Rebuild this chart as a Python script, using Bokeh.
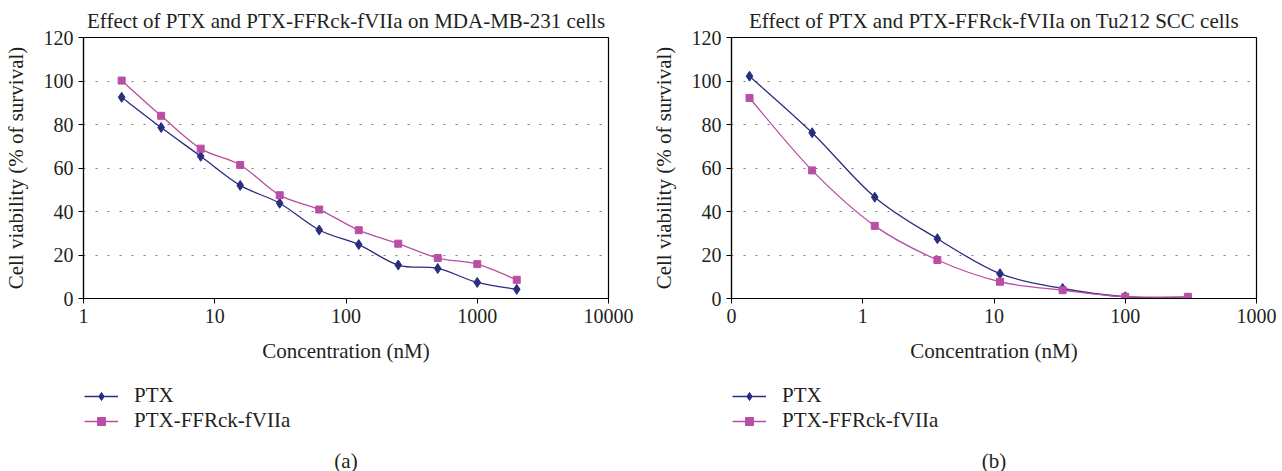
import math
from bokeh.plotting import figure
from bokeh.models import (FixedTicker, NumeralTickFormatter, Legend, LegendItem,
                          Label, Range1d, ColumnDataSource)
from bokeh.layouts import row, column
from bokeh.embed import file_html
from bokeh.resources import INLINE

# ---- data ----
conc_a = [1.953125, 3.90625, 7.8125, 15.625, 31.25, 62.5, 125, 250, 500, 1000, 2000]
ptx_a = [92.5, 78.6, 65.4, 52.0, 43.8, 31.5, 24.8, 15.4, 13.8, 7.4, 4.2]
conj_a = [100.2, 84.0, 68.9, 61.4, 47.5, 40.9, 31.4, 25.2, 18.6, 15.8, 8.6]

conc_b = [0.1372, 0.4115, 1.2346, 3.7037, 11.111, 33.333, 100, 300]
ptx_b = [102.2, 76.2, 46.6, 27.5, 11.4, 4.6, 0.8, 0.2]
conj_b = [92.2, 58.9, 33.4, 17.7, 7.7, 3.8, 0.8, 0.8]

ticks_a = [1, 10, 100, 1000, 10000]
ticks_b = [0.1, 1, 10, 100, 1000]
y_ticks = [0, 20, 40, 60, 80, 100, 120]
grid_ticks = [20, 40, 60, 80, 100]

series_names = ["PTX", "PTX-FFRck-fVIIa"]
titles = ["Effect of PTX and PTX-FFRck-fVIIa on MDA-MB-231 cells",
          "Effect of PTX and PTX-FFRck-fVIIa on Tu212 SCC cells"]
x_label = "Concentration (nM)"
y_label = "Cell viability (% of survival)"
panel_labels = ["(a)", "(b)"]

BLUE = "#2b2d80"
MAGENTA = "#b94fa4"
FONT = "Liberation Serif"
TXT = "#231f20"
STYLES = [(BLUE, "diamond", 10), (MAGENTA, "square", 7)]


def smooth_source(xs, ys):
    """Bezier segments (Catmull-Rom style) through the data points in log-x space."""
    lx = [math.log10(v) for v in xs]
    n = len(xs)
    tx, ty = [], []
    for i in range(n):
        a, b = max(i - 1, 0), min(i + 1, n - 1)
        tx.append((lx[b] - lx[a]) * 0.5)
        ty.append((ys[b] - ys[a]) * 0.5)
    d = dict(x0=[], y0=[], x1=[], y1=[], cx0=[], cy0=[], cx1=[], cy1=[])
    for i in range(n - 1):
        d["x0"].append(xs[i]); d["y0"].append(ys[i])
        d["x1"].append(xs[i + 1]); d["y1"].append(ys[i + 1])
        d["cx0"].append(10 ** (lx[i] + tx[i] / 3)); d["cy0"].append(ys[i] + ty[i] / 3)
        d["cx1"].append(10 ** (lx[i + 1] - tx[i + 1] / 3)); d["cy1"].append(ys[i + 1] - ty[i + 1] / 3)
    return ColumnDataSource(d)


def make_fig(title, xr, ticks, left, right, conc, s1, s2):
    p = figure(x_axis_type="log", x_range=Range1d(*xr), y_range=Range1d(0, 120),
               frame_width=525, frame_height=261,
               min_border_left=left, min_border_right=right,
               min_border_top=37, min_border_bottom=75,
               output_backend="svg", toolbar_location=None)
    p.title.text = title
    p.title.text_font = FONT
    p.title.text_font_size = "21px"
    p.title.text_font_style = "normal"
    p.title.text_color = TXT
    p.title.align = "center"
    p.title.standoff = 10

    p.background_fill_color = "white"
    p.border_fill_color = "white"
    p.outline_line_color = "black"
    p.outline_line_width = 1.2
    p.outline_line_alpha = 1

    p.xgrid.grid_line_color = None
    p.ygrid.ticker = FixedTicker(ticks=grid_ticks)
    p.ygrid.grid_line_color = "#7a7a7a"
    p.ygrid.grid_line_dash = "2 10"
    p.ygrid.grid_line_width = 1

    p.xaxis.ticker = FixedTicker(ticks=ticks, minor_ticks=[])
    p.xaxis.formatter = NumeralTickFormatter(format="0")
    p.yaxis.ticker = FixedTicker(ticks=y_ticks, minor_ticks=[])
    p.xaxis.axis_label = x_label
    p.yaxis.axis_label = y_label
    for ax in (p.xaxis[0], p.yaxis[0]):
        ax.axis_line_color = "black"
        ax.axis_line_width = 1.2
        ax.major_tick_line_color = "black"
        ax.major_tick_in = 0
        ax.major_tick_out = 5
        ax.minor_tick_line_color = None
        ax.major_label_text_font = FONT
        ax.major_label_text_font_size = "20px"
        ax.major_label_text_color = TXT
        ax.axis_label_text_font = FONT
        ax.axis_label_text_font_size = "21px"
        ax.axis_label_text_font_style = "normal"
        ax.axis_label_text_color = TXT
    p.xaxis.major_label_standoff = 5
    p.xaxis.axis_label_standoff = 13
    p.yaxis.major_label_standoff = 5
    p.yaxis.axis_label_standoff = 13

    for ys, (color, marker, msize) in zip((s1, s2), STYLES):
        p.bezier(x0="x0", y0="y0", x1="x1", y1="y1", cx0="cx0", cy0="cy0",
                 cx1="cx1", cy1="cy1", source=smooth_source(conc, ys),
                 line_color=color, line_width=1.3)
        p.scatter(conc, ys, marker=marker, size=msize, fill_color=color, line_color=color)
    return p


def make_legend_fig(leg_x, sub_x, sub, conc, s1, s2):
    # ranges chosen so the series' own points (all positive) fall outside this strip;
    # the renderers only serve as legend glyph sources.
    q = figure(width=641, height=98, x_range=Range1d(-2, -1), y_range=Range1d(-2, -1),
               min_border=0, x_axis_location=None, y_axis_location=None,
               output_backend="svg", toolbar_location=None)
    q.outline_line_color = None
    q.grid.grid_line_color = None
    q.background_fill_color = "white"
    q.border_fill_color = "white"
    items = []
    for name, ys, (color, marker, msize) in zip(series_names, (s1, s2), STYLES):
        ln = q.line(x=conc, y=ys, line_color=color, line_width=1.5)
        sc = q.scatter(x=conc, y=ys, marker=marker, size=msize, fill_color=color, line_color=color)
        items.append(LegendItem(label=name, renderers=[ln, sc]))
    leg = Legend(items=items, location=(leg_x, 38), orientation="vertical",
                 margin=0, padding=0, spacing=0, glyph_width=34, glyph_height=20,
                 label_height=20, label_standoff=16, label_text_font=FONT,
                 label_text_font_size="21px", label_text_color=TXT,
                 border_line_color=None, background_fill_alpha=0)
    q.add_layout(leg, "center")
    q.add_layout(Label(x=sub_x, y=11, x_units="screen", y_units="screen", text=sub,
                       text_align="center", text_baseline="middle", text_font=FONT,
                       text_font_size="21px", text_color=TXT))
    return q


pa = make_fig(titles[0], (1, 10000), ticks_a, 83, 33, conc_a, ptx_a, conj_a)
pb = make_fig(titles[1], (0.1, 1000), ticks_b, 90, 26, conc_b, ptx_b, conj_b)
la = make_legend_fig(84, 345.5, panel_labels[0], conc_a, ptx_a, conj_a)
lb = make_legend_fig(91, 352.5, panel_labels[1], conc_b, ptx_b, conj_b)

layout = column(row(pa, pb, spacing=0), row(la, lb, spacing=0), spacing=0)
open("out.html", "w").write(file_html(layout, INLINE))
